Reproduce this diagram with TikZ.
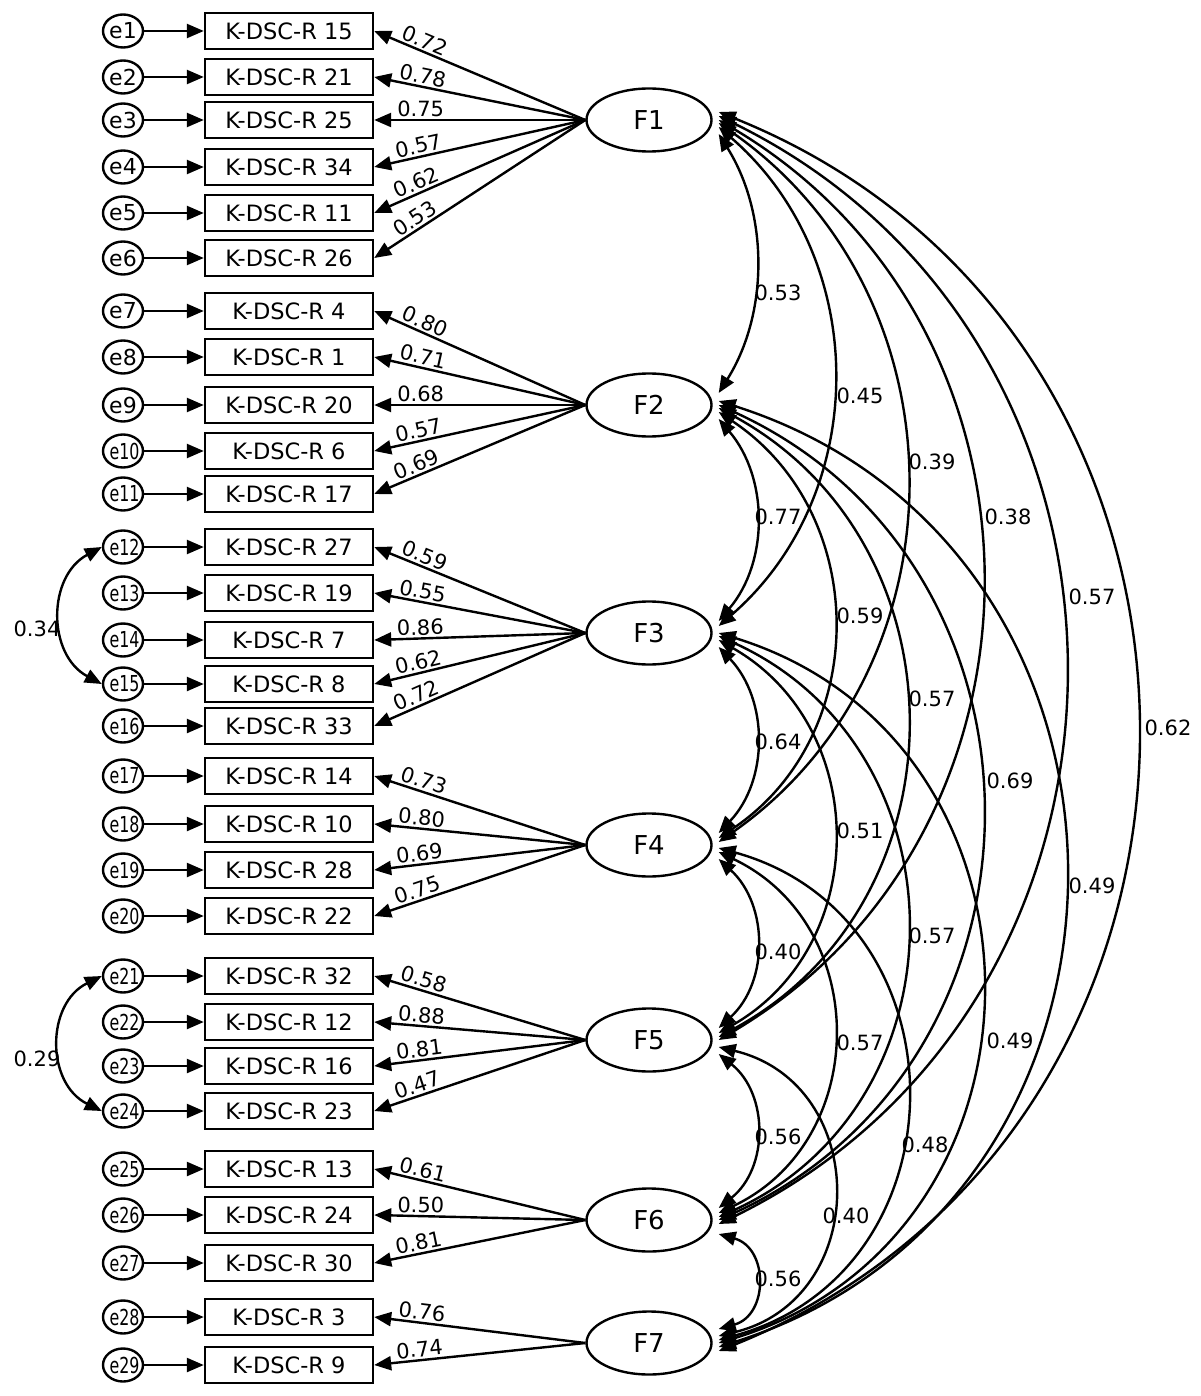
\documentclass[tikz,border=0pt]{standalone}
\usepackage{fontspec}
\setmainfont{DejaVu Sans}
\usetikzlibrary{arrows.meta,shapes.geometric}
\begin{document}
\begin{tikzpicture}[x=1pt,y=-1pt,
  >={Triangle[length=17pt,width=14pt]},
  every node/.style={inner sep=0pt},
  obs/.style={draw, line width=2.4pt, minimum width=168pt, minimum height=36pt, font=\fontsize{22.5}{25}\selectfont},
  err/.style={draw, ellipse, line width=2.4pt, minimum width=40pt, minimum height=33pt, font=\fontsize{22}{24}\selectfont},
  lat/.style={draw, ellipse, line width=2.4pt, minimum width=125pt, minimum height=63pt, font=\fontsize{26}{29}\selectfont},
  load/.style={->, line width=2.4pt},
  cov/.style={<->, line width=2.4pt},
  ll/.style={font=\fontsize{21}{23}\selectfont, sloped, above, inner sep=2pt, pos=0.78},
  cl/.style={font=\fontsize{21}{23}\selectfont}]
\useasboundingbox (0,0) rectangle (1200,1396);
% latent factors
\foreach \i/\y in {1/120,2/405,3/633,4/845,5/1040,6/1220,7/1343}{
  \node[lat] (F\i) at (649,\y) {F\i};
}
% indicators
\foreach \e/\bx/\y/\f/\l in {
  1/15/31/1/0.72, 2/21/77/1/0.78, 3/25/120/1/0.75, 4/34/167/1/0.57, 5/11/213/1/0.62, 6/26/258/1/0.53,
  7/4/311/2/0.80, 8/1/357/2/0.71, 9/20/405/2/0.68, 10/6/451/2/0.57, 11/17/494/2/0.69,
  12/27/547/3/0.59, 13/19/593/3/0.55, 14/7/640/3/0.86, 15/8/684/3/0.62, 16/33/726/3/0.72,
  17/14/776/4/0.73, 18/10/824/4/0.80, 19/28/870/4/0.69, 20/22/916/4/0.75,
  21/32/976/5/0.58, 22/12/1022/5/0.88, 23/16/1066/5/0.81, 24/23/1111/5/0.47,
  25/13/1169/6/0.61, 26/24/1215/6/0.50, 27/30/1263/6/0.81,
  28/3/1317/7/0.76, 29/9/1365/7/0.74}{
  \node[obs] (b\bx) at (289,\y) {K-DSC-R \bx};
  \node[err] (e\e) at (123,\y) {\makebox[0pt]{\ifnum\e>9 \hspace{3pt}\scalebox{0.72}[1]{e\e}\else e\e\fi}};
  \draw[load] (e\e) -- (b\bx);
  \draw[load] (F\f.west) -- node[ll]{\l} (b\bx.east);
}
% factor covariances: a/b/offset-top/offset-bottom/control dx/control dy/label x/label y/label
\foreach \a/\b/\ua/\ub/\cx/\cy/\lx/\ly/\lab in {
  1/2/14/-12/50/79.8/778/293/0.53,
  2/3/14/-12/50/58.8/778/517/0.77,
  3/4/14/-12/50/52.7/778/742/0.64,
  4/5/14/-12/50/46.0/778/952/0.40,
  5/6/14/-12/50/40.0/778/1137/0.56,
  6/7/14/-14/50/14.1/778/1279/0.56,
  1/3/7/-7/152.7/132.1/860/396/0.45,
  2/4/7/-7/152.7/101.8/860/616/0.59,
  3/5/7/-7/152.7/87.4/860/831/0.51,
  4/6/7/-7/152.7/72.8/860/1043/0.57,
  5/7/7/-7/152.7/36.9/846/1216/0.40,
  1/4/3/-3/250/174.5/932/462/0.39,
  2/5/3/-3/250/135.1/932/699/0.57,
  3/6/3/-3/250/113.0/932/936/0.57,
  4/7/3/-3/250/68.7/925/1145/0.48,
  1/5/0/0/350/206.8/1008/517/0.38,
  2/6/0/0/350/158.9/1010/781/0.69,
  3/7/0/0/350/107.3/1010/1041/0.49,
  1/6/-4/4/460.7/224.8/1092/597/0.57,
  2/7/-4/4/460.7/146.1/1092/886/0.49,
  1/7/-8/8/556.7/223.5/1168/728/0.62}{
  \draw[cov] ([shift={(6,\ua)}]F\a.east) .. controls +(\cx,\cy) and +(\cx,-\cy) .. ([shift={(6,\ub)}]F\b.east);
  \node[cl] (c\a\b) at (\lx,\ly) {\lab};
}
% error covariances
\draw[cov] (e12.west) .. controls +(-54.7,29.3) and +(-54.7,-29.3) .. (e15.west);
\node[cl] (c1215) at (37,629) {0.34};
\draw[cov] (e21.west) .. controls +(-56,27.6) and +(-56,-27.6) .. (e24.west);
\node[cl] (c2124) at (37,1059) {0.29};
\end{tikzpicture}
\end{document}
